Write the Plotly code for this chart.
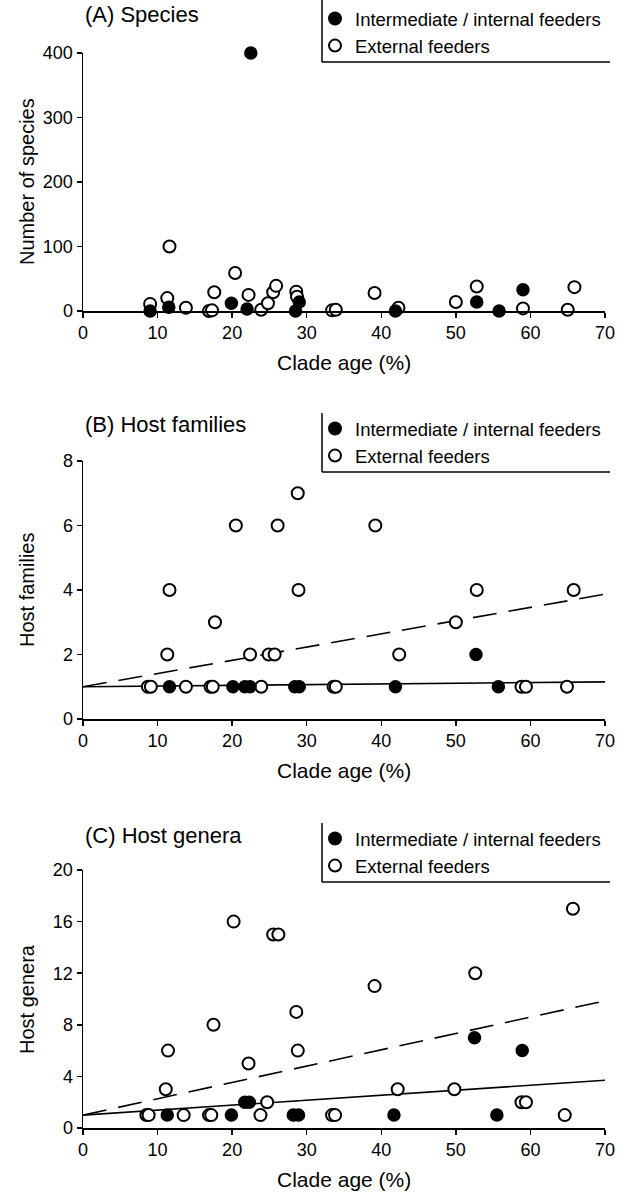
import plotly.graph_objects as go

# ---------------- data ----------------
# Panel A: number of species
a_int_x = [9.0, 11.5, 19.9, 22.0, 22.5, 28.5, 29.0, 41.9, 52.8, 55.8, 59.0]
a_int_y = [0, 6, 12, 3, 400, 0, 14, 0, 14, 0, 33]
a_ext_x = [9.0, 11.3, 11.6, 13.8, 16.9, 17.3, 17.6, 20.4, 22.2, 23.9, 24.8, 25.5, 25.9,
           28.6, 28.7, 33.4, 33.9, 39.1, 42.3, 50.0, 52.8, 59.0, 59.4, 65.0, 65.9]
a_ext_y = [11, 20, 100, 5, 0, 1, 29, 59, 25, 2, 12, 29, 39,
           30, 22, 1, 2, 28, 5, 14, 38, 4, -2, 2, 37]

# Panel B: host families
b_int_x = [11.6, 20.1, 21.7, 22.4, 28.4, 29.0, 41.9, 52.7, 55.7]
b_int_y = [1, 1, 1, 1, 1, 1, 1, 2, 1]
b_ext_x = [8.7, 9.1, 11.3, 11.6, 13.8, 17.1, 17.4, 17.7, 20.5, 22.4, 23.9, 24.9, 25.7,
           26.1, 28.8, 28.9, 33.6, 33.9, 39.2, 42.4, 50.0, 52.8, 58.8, 59.4, 64.9, 65.8]
b_ext_y = [1, 1, 2, 4, 1, 1, 1, 3, 6, 2, 1, 2, 2,
           6, 7, 4, 1, 1, 6, 2, 3, 4, 1, 1, 1, 4]
b_int_fit = [1.0, 1.15]
b_ext_fit = [1.0, 3.87]

# Panel C: host genera
c_int_x = [11.3, 19.9, 21.7, 22.3, 28.2, 28.9, 41.7, 52.5, 55.5, 58.9]
c_int_y = [1, 1, 2, 2, 1, 1, 1, 7, 1, 6]
c_ext_x = [8.5, 8.8, 11.1, 11.4, 13.5, 16.9, 17.2, 17.5, 20.2, 22.2, 23.8, 24.7, 25.5,
           26.2, 28.6, 28.8, 33.4, 33.8, 39.1, 42.2, 49.8, 52.6, 58.8, 59.4, 64.6, 65.7]
c_ext_y = [1, 1, 3, 6, 1, 1, 1, 8, 16, 5, 1, 2, 15,
           15, 9, 6, 1, 1, 11, 3, 3, 12, 2, 2, 1, 17]
c_int_fit = [1.0, 3.7]
c_ext_fit = [1.0, 9.86]

fit_x = [0, 70]

x_ticks = [0, 10, 20, 30, 40, 50, 60, 70]
a_yticks = [0, 100, 200, 300, 400]
b_yticks = [0, 2, 4, 6, 8]
c_yticks = [0, 4, 8, 12, 16, 20]

panel_titles = ["(A) Species", "(B) Host families", "(C) Host genera"]
y_titles = ["Number of species", "Host families", "Host genera"]
x_title = "Clade age (%)"
leg_int = "Intermediate / internal feeders"
leg_ext = "External feeders"

# ---------------- layout geometry (page pixels) ----------------
W, H = 631, 1194
L, R = 83, 605                # plot area left/right
FONT = "Liberation Sans, Arial, Helvetica, sans-serif"


def py(p):
    return 1 - p / H


def px(p):
    return (p - L) / (R - L)


panels = [
    dict(yb=311, yt=53, rng=[0, 400], ticks=a_yticks, int_x=a_int_x, int_y=a_int_y,
         ext_x=a_ext_x, ext_y=a_ext_y, int_fit=None, ext_fit=None, off=0),
    dict(yb=719, yt=461, rng=[0, 8], ticks=b_yticks, int_x=b_int_x, int_y=b_int_y,
         ext_x=b_ext_x, ext_y=b_ext_y, int_fit=b_int_fit, ext_fit=b_ext_fit, off=410),
    dict(yb=1128, yt=870, rng=[0, 20], ticks=c_yticks, int_x=c_int_x, int_y=c_int_y,
         ext_x=c_ext_x, ext_y=c_ext_y, int_fit=c_int_fit, ext_fit=c_ext_fit, off=820),
]

fig = go.Figure()
shapes = []
annotations = []
layout = {}

for i, p in enumerate(panels):
    n = "" if i == 0 else str(i + 1)
    xa, ya = "x" + n, "y" + n
    legname = "legend" + n
    # fit lines
    if p["int_fit"] is not None:
        fig.add_trace(go.Scatter(x=fit_x, y=p["int_fit"], mode="lines", xaxis=xa, yaxis=ya,
                                 line=dict(color="black", width=1.6), showlegend=False,
                                 hoverinfo="skip"))
    if p["ext_fit"] is not None:
        fig.add_trace(go.Scatter(x=fit_x, y=p["ext_fit"], mode="lines", xaxis=xa, yaxis=ya,
                                 line=dict(color="black", width=1.6, dash="24px,12px"),
                                 showlegend=False, hoverinfo="skip"))
    # points
    fig.add_trace(go.Scatter(x=p["ext_x"], y=p["ext_y"], mode="markers", xaxis=xa, yaxis=ya,
                             name=leg_ext, legend=legname, legendrank=2, cliponaxis=False,
                             marker=dict(symbol="circle", size=12, color="white",
                                         line=dict(color="black", width=2))))
    fig.add_trace(go.Scatter(x=p["int_x"], y=p["int_y"], mode="markers", xaxis=xa, yaxis=ya,
                             name=leg_int, legend=legname, legendrank=1, cliponaxis=False,
                             marker=dict(symbol="circle", size=12, color="black",
                                         line=dict(color="black", width=1.5))))

    layout["xaxis" + n] = dict(domain=[0, 1], range=[0, 70], tickvals=x_ticks,
                               anchor=ya, showline=True, linecolor="black", linewidth=1.5,
                               ticks="outside", ticklen=5, tickwidth=1.5, tickcolor="black",
                               showgrid=False, zeroline=False,
                               tickfont=dict(family=FONT, size=18, color="black"))
    layout["yaxis" + n] = dict(domain=[py(p["yb"]), py(p["yt"])], range=p["rng"],
                               tickvals=p["ticks"], anchor=xa, showline=True,
                               linecolor="black", linewidth=1.5, ticks="outside", ticklen=5,
                               tickwidth=1.5, tickcolor="black", showgrid=False,
                               zeroline=False,
                               tickfont=dict(family=FONT, size=18, color="black"))
    off = p["off"]
    layout[legname] = dict(x=px(315), y=py(off + 0), xanchor="left", yanchor="top",
                           bgcolor="rgba(0,0,0,0)", borderwidth=0, tracegroupgap=0,
                           itemsizing="constant",
                           font=dict(family=FONT, size=18.5, color="black"))
    # legend frame (left and bottom lines)
    shapes.append(dict(type="line", xref="paper", yref="paper",
                       x0=px(322), x1=px(322), y0=py(off + (0 if i == 0 else 3)),
                       y1=py(off + 62), line=dict(color="black", width=1.5)))
    shapes.append(dict(type="line", xref="paper", yref="paper",
                       x0=px(322), x1=px(610), y0=py(off + 62), y1=py(off + 62),
                       line=dict(color="black", width=1.5)))
    # titles
    annotations.append(dict(text=panel_titles[i], xref="paper", yref="paper",
                            x=px(83), y=py(off + 15), xanchor="left",
                            yanchor="middle", showarrow=False,
                            font=dict(family=FONT, size=22, color="black")))
    annotations.append(dict(text=y_titles[i], xref="paper", yref="paper",
                            x=px(27), y=py((p["yb"] + p["yt"]) / 2), xanchor="center",
                            yanchor="middle", textangle=-90, showarrow=False,
                            font=dict(family=FONT, size=20, color="black")))
    annotations.append(dict(text=x_title, xref="paper", yref="paper",
                            x=0.5, y=py(p["yb"] + 51), xanchor="center",
                            yanchor="middle", showarrow=False,
                            font=dict(family=FONT, size=21, color="black")))

fig.update_layout(width=W, height=H,
                  margin=dict(l=L, r=W - R, t=0, b=0, autoexpand=False),
                  paper_bgcolor="white", plot_bgcolor="white",
                  shapes=shapes, annotations=annotations, **layout)

# remove the default 8px page margin so the figure fills the window exactly
fig.write_html("out.html",
               config={"displayModeBar": False, "staticPlot": True},
               post_script="document.body.style.margin='0';"
                           "document.body.style.overflow='hidden';")
